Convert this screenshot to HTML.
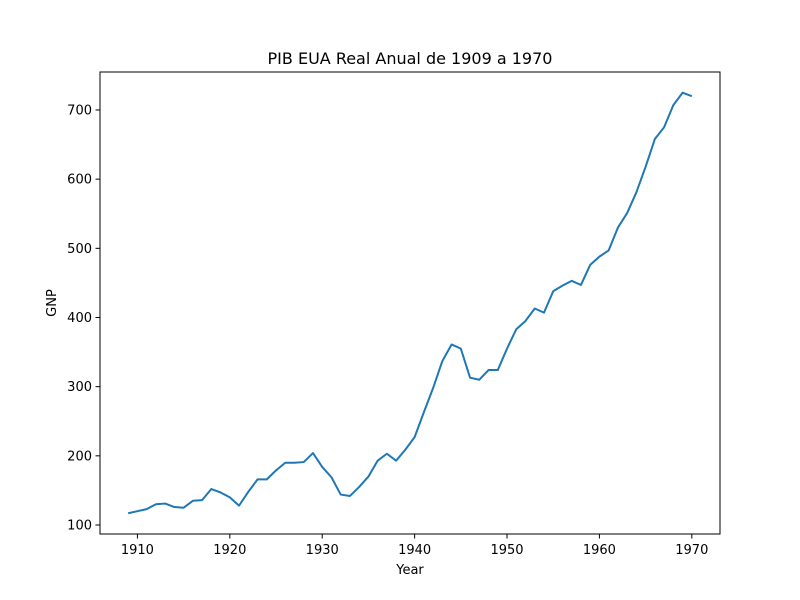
<!DOCTYPE html>
<html><head><meta charset="utf-8"><style>
body{margin:0;background:#fff;}
svg{display:block;font-family:"DejaVu Sans","Liberation Sans",sans-serif;}
</style></head><body>
<svg id="chart" width="800" height="600">
<rect x="0" y="0" width="800" height="600" fill="#fff"/>
<text x="410" y="64" text-anchor="middle" font-size="16">PIB EUA Real Anual de 1909 a 1970</text>
<g id="xt"></g>
<g id="yt"></g>
<path id="line" fill="none" stroke="#1f77b4" stroke-width="2" stroke-linejoin="round"/>
<rect x="100" y="72" width="620" height="462" fill="none" stroke="#000" stroke-width="1"/>
<text x="410" y="574" text-anchor="middle" font-size="13">Year</text>
<text x="56" y="303" text-anchor="middle" font-size="13" transform="rotate(-90 56 303)">GNP</text>
</svg>
<script>
const years=[];for(let y=1909;y<=1970;y++)years.push(y);
const gnp=[117,120,123,130,131,126,125,135,136,152,147,140,128,148,166,166,179,190,190,191,204,184,169,144,142,155,170,193,203,193,209,227,263,298,337,361,355,313,310,324,324,355,383,395,413,407,438,446,453,447,476,488,497,530,551,581,618,658,675,707,725,720];
const xTicks=[1910,1920,1930,1940,1950,1960,1970];
const yTicks=[100,200,300,400,500,600,700];
const xs=v=>100+(v-1905.95)*620/67.1;
const ys=v=>525-(v-100)*0.6917;
const NS="http://www.w3.org/2000/svg";
const xt=document.getElementById('xt'),yt=document.getElementById('yt');
xTicks.forEach(t=>{
 const l=document.createElementNS(NS,'line');
 
 
 l.setAttribute('x1',xs(t));l.setAttribute('x2',xs(t));l.setAttribute('y1',534);l.setAttribute('y2',538.5);l.setAttribute('stroke','#000');
 xt.appendChild(l);
 const tx=document.createElementNS(NS,'text');
 
 
 tx.setAttribute('x',xs(t));tx.setAttribute('y',554);tx.setAttribute('text-anchor','middle');tx.setAttribute('font-size','13');
 tx.textContent=t;xt.appendChild(tx);
});
yTicks.forEach(t=>{
 const l=document.createElementNS(NS,'line');
 
 
 l.setAttribute('x1',95.5);l.setAttribute('x2',100);l.setAttribute('y1',ys(t));l.setAttribute('y2',ys(t));l.setAttribute('stroke','#000');
 yt.appendChild(l);
 const tx=document.createElementNS(NS,'text');
 
 
 tx.setAttribute('x',92);tx.setAttribute('y',ys(t)+4.5);tx.setAttribute('text-anchor','end');tx.setAttribute('font-size','13');
 tx.textContent=t;yt.appendChild(tx);
});
document.getElementById('line').setAttribute('d',years.map((y,i)=>(i?'L':'M')+xs(y).toFixed(2)+','+ys(gnp[i]).toFixed(2)).join(''));
</script>
</body></html>
